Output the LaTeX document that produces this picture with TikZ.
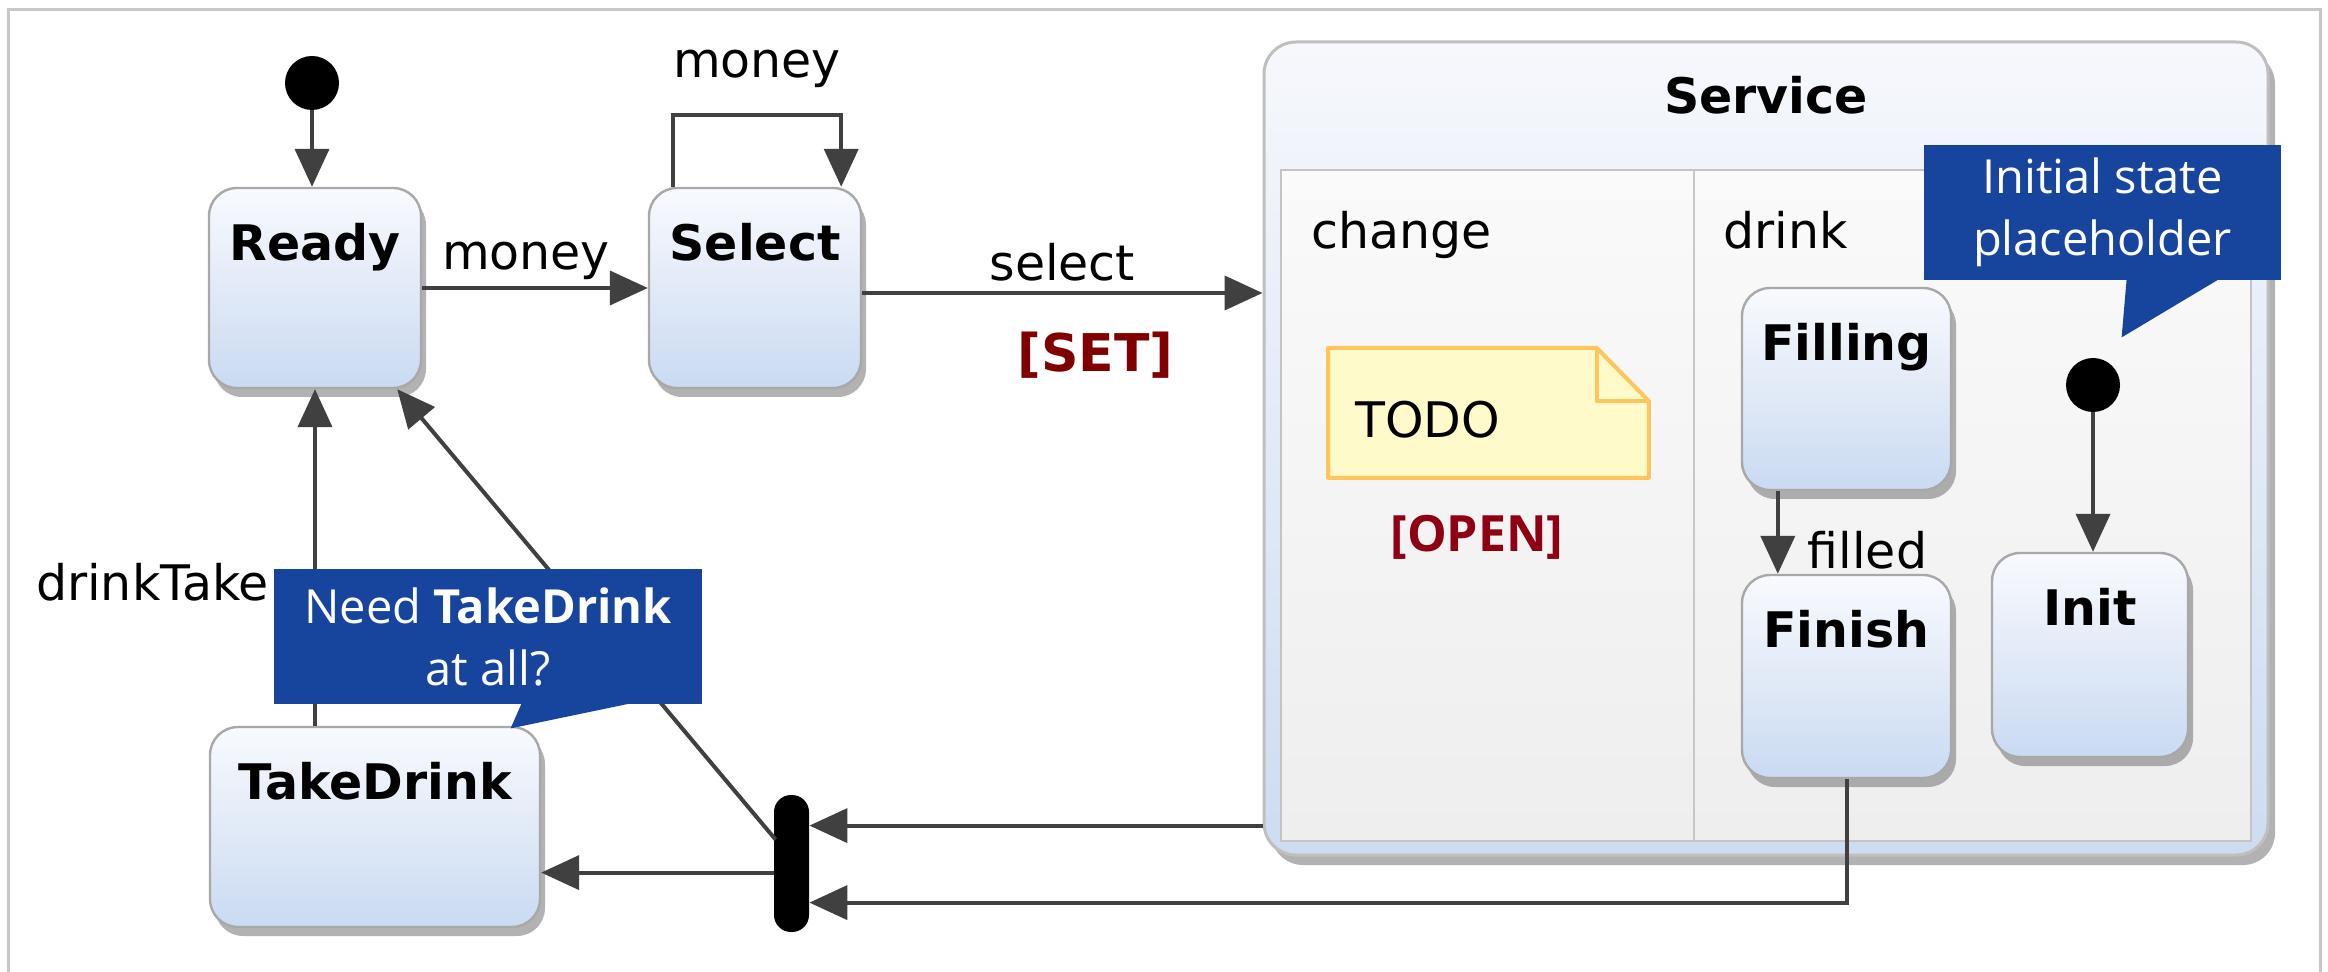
\documentclass[tikz,border=0pt]{standalone}
\usepackage{fontspec}
\setmainfont{DejaVu Sans}
\newfontfamily\osans{Open Sans}
\usetikzlibrary{shadows,arrows.meta,calc}
\definecolor{lineC}{HTML}{404040}
\definecolor{stTop}{HTML}{F8FAFE}
\definecolor{stMid}{HTML}{E2EAF7}
\definecolor{stBot}{HTML}{C9DAF2}
\definecolor{stBorder}{HTML}{A8A8A8}
\definecolor{calloutC}{HTML}{17449C}
\definecolor{noteFill}{HTML}{FFFACA}
\definecolor{noteBorder}{HTML}{FFC55A}
\definecolor{setRed}{HTML}{800000}
\definecolor{openRed}{HTML}{900015}
\definecolor{frameC}{HTML}{C8C8C8}
\definecolor{svTop}{HTML}{F6F8FC}
\definecolor{svBot}{HTML}{CDDCF1}
\definecolor{rgTop}{HTML}{FAFAFA}
\definecolor{rgBot}{HTML}{EEEEEE}
\begin{document}
\begin{tikzpicture}[x=0.5pt,y=-0.5pt,
  every node/.style={inner sep=0pt, font=\fontsize{24.5}{30}\selectfont},
  stbox/.style={draw=stBorder, line width=1.2pt, rounded corners=14pt,
    top color=stTop, bottom color=stBot, middle color=stMid,
    drop shadow={shadow xshift=2.5pt, shadow yshift=-4.5pt, opacity=0.5, fill=black!60}},
  stlabel/.style={anchor=north, yshift=-18pt, font=\fontsize{24.5}{30}\selectfont\bfseries},
  arr/.style={draw=lineC, line width=2pt, -{Triangle[length=19pt,width=17pt]}},
  dotst/.style={circle, fill=black, minimum size=27pt, inner sep=0pt},
  callout/.style={fill=calloutC, text=white, align=center,
    font=\osans\fontsize{23.5}{31}\selectfont}
]
\useasboundingbox (0,0) rectangle (2328,972);
\fill[white] (0,0) rectangle (2328,972);
\draw[frameC, line width=1.5pt] (8,972) -- (8,10) -- (2320,10) -- (2320,972);

% Service composite state
\node[draw=black!25, line width=1.5pt, rounded corners=16pt,
  top color=svTop, bottom color=svBot,
  minimum width=502pt, minimum height=406.5pt,
  drop shadow={shadow xshift=3.5pt, shadow yshift=-5pt, opacity=0.5, fill=black!60},
  label={[anchor=north, yshift=-17.5pt, font=\fontsize{24.5}{30}\selectfont\bfseries]north:Service}]
  (service) at (1766,448.5) {};
\node[draw=black!23, line width=1.2pt, top color=rgTop, bottom color=rgBot,
  minimum width=485pt, minimum height=335.5pt] (region) at (1766,505.5) {};
\coordinate (div) at ($(region.north west)+(414,0)$);
\draw[draw=black!22, line width=1.2pt] (div) -- (div |- region.south);
\node[anchor=north west] (chg) at ($(region.north west)+(31,42)$) {change};
\node[anchor=north west] (drk) at ($(div)+(29,42)$) {drink};

% note
\node[anchor=north west, minimum width=160pt, minimum height=64.5pt] (todo) at (1328,348) {};
\filldraw[fill=noteFill, draw=noteBorder, line width=2pt, line join=round]
  (todo.north west) -- ($(todo.north east)+(-52,0)$) -- ($(todo.north east)+(0,53)$)
  -- (todo.south east) -- (todo.south west) -- cycle;
\draw[draw=noteBorder, line width=2pt, line join=round]
  ($(todo.north east)+(-52,0)$) |- ($(todo.north east)+(0,53)$);
\node[anchor=west] (todoT) at (1355,420) {TODO};
\node[font=\osans\bfseries\fontsize{25}{30}\selectfont, text=openRed] (open) at (1477,537) {[OPEN]};

% states
\node[stbox, minimum width=106pt, minimum height=100pt, label={[stlabel]north:Ready}] (ready) at (315,288) {};
\node[stbox, minimum width=106pt, minimum height=100pt, label={[stlabel]north:Select}] (select) at (755,288) {};
\node[stbox, minimum width=165pt, minimum height=100pt, label={[stlabel]north:TakeDrink}] (takedrink) at (375,827) {};
\node[stbox, minimum width=104.5pt, minimum height=101pt, label={[stlabel]north:Filling}] (filling) at (1846.5,389) {};
\node[stbox, minimum width=104.5pt, minimum height=101.5pt, label={[stlabel]north:Finish}] (finish) at (1846.5,676.5) {};
\node[stbox, minimum width=98pt, minimum height=102pt, label={[stlabel]north:Init}] (init) at (2090,655) {};

% pseudo states
\node[dotst] (dot1) at (312,83) {};
\node[dotst] (dot2) at (2093,385) {};
\node[fill=black, rounded corners=8.5pt, minimum width=17.5pt, minimum height=68.5pt] (bar) at (791.5,863.5) {};

\coordinate (barin1) at ($(bar.north east)+(0,31)$);
\coordinate (barin2) at ($(bar.north east)+(0,108)$);
\coordinate (barout) at ($(bar.north west)+(0,78)$);
\coordinate (bardiag) at ($(bar.north west)+(2,45)$);
\coordinate (loopA) at ($(select.north west)+(25,0)$);
\coordinate (loopB) at ($(select.north east)+(-21,0)$);
\coordinate (fillA) at ($(filling.south west)+(37,0)$);
\coordinate (selOut) at ($(select.east)+(0,5)$);

% connectors
\draw[arr] (dot1) -- (dot1 |- ready.north);
\draw[arr] (ready.east) -- node[pos=0.46, above=3pt] (lblM1) {money} (select.west);
\draw[arr] (loopA) -- ++(0,-72) -| node[pos=0.25, above=12.5pt] (lblM2) {money} (loopB);
\draw[arr] (selOut) -- node[pos=0.5, above=5pt] (lblS) {select}
  node[pos=0.583, below=18.5pt, font=\fontsize{26}{30}\selectfont\bfseries, text=setRed] (lblSet) {[SET]}
  (selOut -| service.west);
\draw[arr] (ready.south |- takedrink.north) -- node[pos=0.428, left=22pt] (lblDT) {drinkTake} (ready.south);
\draw[arr] (bardiag) -- ($(ready.south east)+(-25,0)$);
\draw[arr] (service.west |- barin1) -- (barin1);
\draw[arr] (finish.south) |- (barin2);
\draw[arr] (barout) -- (takedrink.east |- barout);
\draw[arr] (fillA) -- node[pos=0.72, right=14pt] (lblF) {filled} (fillA |- finish.north);
\draw[arr] (dot2) -- (dot2 |- init.north);

% callouts
\node[callout, minimum width=214pt, minimum height=67.5pt] (cNeed) at (488,636.5) {Need \textbf{TakeDrink}\\at all?};
\coordinate (cNeedTip) at ($(cNeed.south west)+(237,24)$);
\fill[calloutC] ($(cNeed.south west)+(248,-1)$) -- (cNeedTip) -- ($(cNeed.south west)+(357,-1)$) -- cycle;
\node[callout, minimum width=178.5pt, minimum height=67.5pt] (cInit) at (2102.5,212.5) {Initial state\\placeholder};
\coordinate (cInitTip) at ($(cInit.south west)+(198,57)$);
\fill[calloutC] ($(cInit.south west)+(203,-1)$) -- (cInitTip) -- ($(cInit.south west)+(295,-1)$) -- cycle;
\end{tikzpicture}
\end{document}
